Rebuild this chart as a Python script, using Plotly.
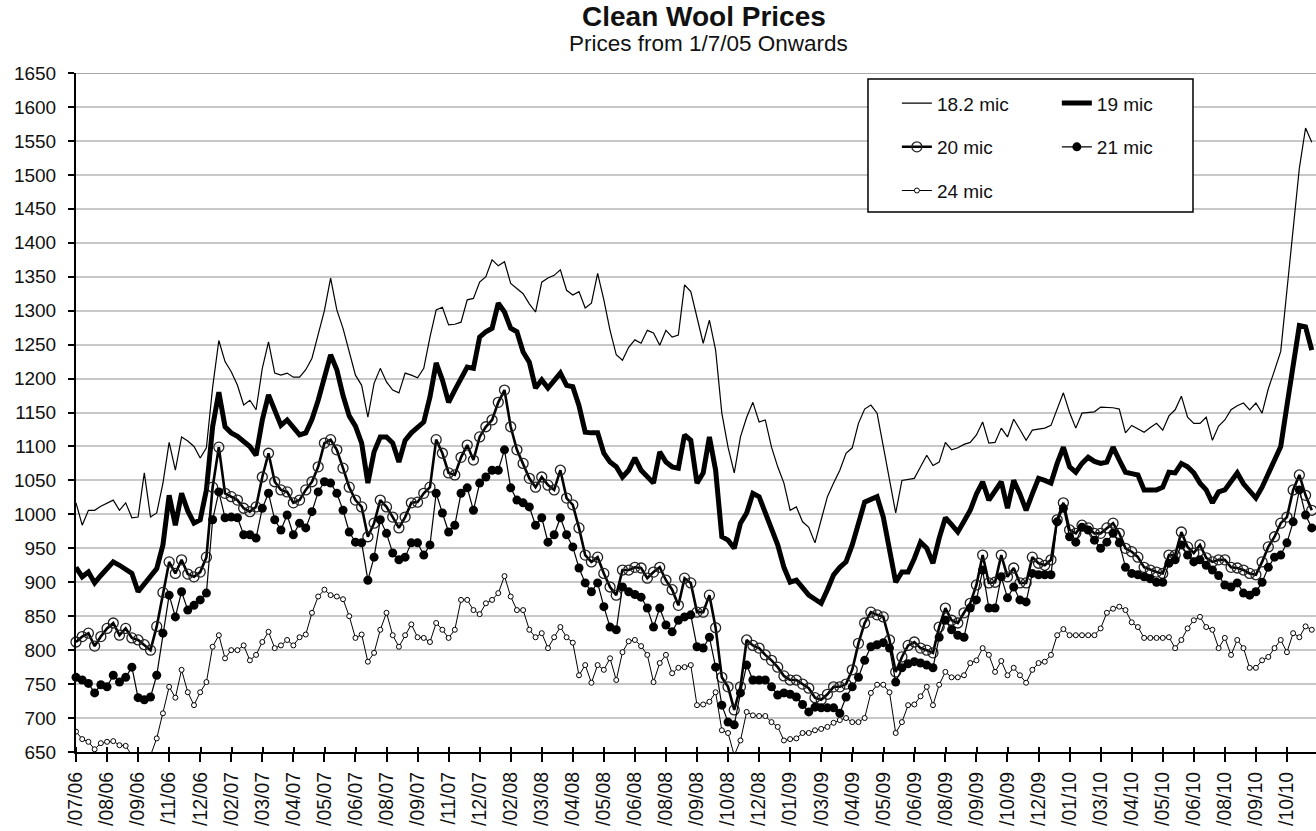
import plotly.graph_objects as go

# ---------------- data ----------------
tick_labels = ["/07/06", "/08/06", "/09/06", "/11/06", "/12/06",
               "/02/07", "/03/07", "/04/07", "/05/07", "/06/07", "/08/07", "/09/07", "/11/07", "/12/07",
               "/02/08", "/03/08", "/04/08", "/05/08", "/06/08", "/08/08", "/09/08", "/10/08", "/12/08",
               "/01/09", "/03/09", "/04/09", "/05/09", "/06/09", "/08/09", "/09/09", "/10/09", "/12/09",
               "/01/10", "/03/10", "/04/10", "/05/10", "/06/10", "/08/10", "/09/10", "/10/10"]

mic_18_2 = [
    1017, 984, 1006, 1006, 1012, 1016, 1021, 1006, 1017, 995,
    996, 1061, 996, 1002, 1046, 1106, 1065, 1114, 1108, 1100,
    1083, 1098, 1187, 1256, 1225, 1210, 1190, 1161, 1168, 1154,
    1215, 1254, 1208, 1205, 1208, 1202, 1202, 1213, 1230, 1265,
    1300, 1348, 1301, 1274, 1238, 1205, 1190, 1143, 1193, 1215,
    1195, 1183, 1179, 1208, 1205, 1201, 1215, 1261, 1301, 1305,
    1279, 1280, 1283, 1316, 1318, 1342, 1350, 1375, 1366, 1372,
    1340, 1333, 1325, 1310, 1298, 1342, 1348, 1352, 1360, 1330,
    1323, 1328, 1304, 1311, 1355, 1316, 1271, 1235, 1227, 1246,
    1257, 1252, 1271, 1267, 1249, 1271, 1261, 1264, 1338, 1328,
    1291, 1252, 1286, 1242, 1149, 1099, 1061, 1114, 1143, 1165,
    1136, 1139, 1099, 1070, 1046, 1006, 1011, 989, 981, 958,
    992, 1026, 1046, 1065, 1090, 1098, 1134, 1155, 1161, 1149,
    1100, 1050, 1002, 1050, 1052, 1053, 1070, 1087, 1072, 1077,
    1106, 1095, 1098, 1103, 1106, 1117, 1136, 1105, 1106, 1127,
    1114, 1140, 1125, 1109, 1124, 1126, 1127, 1131, 1155, 1179,
    1150, 1127, 1149, 1150, 1151, 1158, 1158, 1157, 1155, 1120,
    1131, 1126, 1121, 1128, 1134, 1124, 1145, 1154, 1174, 1143,
    1134, 1134, 1143, 1109, 1130, 1139, 1154, 1160, 1164, 1154,
    1164, 1149, 1185, 1212, 1240, 1330, 1420, 1510, 1569, 1548,
]

mic_19 = [
    922, 908, 915, 899, 910, 920, 930, 925, 918, 913,
    886, 898, 910, 920, 955, 1028, 984, 1031, 1005, 987,
    992, 1036, 1129, 1180, 1129, 1120, 1115, 1108, 1100, 1087,
    1139, 1176, 1152, 1131, 1139, 1129, 1117, 1120, 1140, 1168,
    1200, 1235, 1213, 1175, 1145, 1130, 1105, 1046, 1092, 1114,
    1114, 1105, 1077, 1109, 1120, 1128, 1136, 1173, 1223, 1198,
    1165, 1183, 1202, 1217, 1215, 1261, 1269, 1274, 1311, 1298,
    1274, 1269, 1239, 1224, 1186, 1198, 1186, 1198, 1208, 1190,
    1188, 1160, 1121, 1120, 1120, 1090, 1077, 1070, 1055, 1065,
    1083, 1065, 1055, 1046, 1092, 1077, 1070, 1068, 1117, 1109,
    1046, 1061, 1114, 1065, 967, 962, 950, 987, 1002, 1031,
    1026, 1002, 980, 955, 922, 900, 903, 893, 881, 875,
    869, 889, 911, 922, 930, 955, 990, 1018, 1022, 1026,
    996, 947, 900, 915, 915, 935, 959, 950, 928, 965,
    995, 985, 974, 990, 1006, 1030, 1048, 1021, 1035, 1048,
    1009, 1050, 1030, 1006, 1030, 1053, 1050, 1046, 1075, 1099,
    1070, 1062, 1075, 1084, 1078, 1075, 1077, 1099, 1080, 1062,
    1060, 1058, 1036, 1036, 1036, 1040, 1062, 1061, 1075, 1070,
    1061, 1046, 1036, 1017, 1033, 1036, 1050, 1061, 1045, 1035,
    1024, 1040, 1061, 1080, 1100, 1160, 1223, 1278, 1276, 1242,
]

mic_20 = [
    812, 820, 825, 806, 820, 832, 840, 822, 832, 818,
    815, 808, 800, 835, 885, 930, 913, 933, 912, 908,
    915, 937, 1040, 1099, 1031, 1026, 1021, 1009, 1004, 1011,
    1055, 1090, 1048, 1036, 1033, 1017, 1021, 1036, 1048, 1070,
    1105, 1110, 1095, 1068, 1040, 1021, 1011, 967, 987, 1021,
    1011, 996, 980, 996, 1017, 1018, 1031, 1040, 1110, 1090,
    1061, 1058, 1084, 1102, 1080, 1114, 1129, 1139, 1165, 1183,
    1129, 1095, 1075, 1053, 1040, 1055, 1043, 1036, 1065, 1024,
    1014, 980, 940, 930, 937, 913, 893, 881, 918, 918,
    922, 921, 906, 915, 922, 903, 889, 866, 906, 899,
    856, 856, 881, 833, 760, 746, 712, 746, 815, 807,
    803, 793, 785, 775, 762, 756, 756, 750, 744, 730,
    727, 735, 746, 746, 750, 771, 810, 840, 856, 852,
    849, 815, 768, 790, 807, 812, 803, 800, 796, 834,
    862, 844, 840, 855, 869, 896, 940, 899, 900, 940,
    908, 921, 899, 899, 937, 928, 925, 933, 992, 1017,
    977, 972, 984, 980, 972, 972, 980, 987, 972, 950,
    945, 937, 922, 918, 915, 913, 940, 940, 974, 952,
    943, 955, 936, 930, 933, 933, 922, 921, 918, 913,
    911, 930, 952, 967, 987, 996, 1036, 1058, 1028, 1006,
]

mic_21 = [
    760, 756, 751, 737, 749, 746, 763, 753, 760, 775,
    730, 727, 731, 763, 825, 881, 849, 886, 859, 866,
    874, 884, 992, 1033, 995, 996, 995, 970, 970, 965,
    1009, 1031, 992, 977, 999, 970, 987, 980, 1004, 1033,
    1048, 1046, 1031, 1006, 974, 959, 958, 903, 937, 992,
    972, 943, 933, 937, 958, 958, 940, 955, 1031, 1002,
    974, 984, 1031, 1039, 1006, 1046, 1055, 1065, 1065, 1095,
    1039, 1021, 1017, 1011, 984, 995, 959, 970, 995, 970,
    952, 921, 899, 886, 899, 864, 834, 830, 893, 886,
    882, 878, 862, 834, 862, 837, 827, 844, 849, 852,
    805, 803, 819, 775, 719, 694, 690, 737, 778, 756,
    756, 756, 746, 734, 737, 735, 731, 720, 709, 716,
    715, 715, 715, 707, 731, 746, 760, 785, 805, 808,
    811, 803, 753, 774, 780, 783, 781, 778, 774, 819,
    844, 830, 822, 819, 862, 874, 918, 862, 862, 908,
    877, 893, 874, 871, 913, 911, 911, 911, 989, 1009,
    967, 959, 981, 977, 962, 950, 959, 972, 958, 922,
    913, 911, 908, 905, 900, 900, 928, 933, 955, 940,
    930, 933, 925, 918, 910, 896, 893, 899, 884, 881,
    886, 900, 922, 937, 940, 958, 989, 1036, 999, 980,
]

mic_24 = [
    680, 669, 665, 654, 663, 665, 666, 660, 659, 645,
    638, 640, 645, 670, 707, 746, 730, 771, 738, 719,
    738, 753, 805, 822, 788, 800, 800, 807, 785, 793,
    812, 827, 803, 807, 815, 807, 819, 823, 855, 879,
    889, 881, 879, 875, 850, 818, 823, 783, 796, 830,
    855, 822, 805, 822, 838, 819, 818, 812, 840, 830,
    818, 830, 874, 874, 859, 853, 869, 874, 884, 909,
    879, 859, 859, 830, 819, 825, 803, 819, 834, 819,
    811, 763, 778, 752, 778, 771, 788, 756, 797, 813,
    815, 806, 793, 753, 781, 793, 766, 774, 775, 778,
    719, 720, 724, 738, 682, 678, 645, 667, 709, 704,
    703, 703, 694, 687, 667, 669, 670, 678, 678, 682,
    684, 687, 693, 697, 700, 694, 694, 700, 737, 749,
    749, 738, 678, 694, 719, 720, 732, 746, 719, 749,
    768, 760, 760, 763, 781, 785, 803, 793, 768, 784,
    763, 774, 763, 752, 771, 781, 783, 793, 822, 831,
    822, 822, 822, 822, 822, 832, 855, 861, 864, 859,
    841, 834, 818, 818, 818, 818, 819, 803, 815, 832,
    844, 849, 834, 830, 803, 818, 793, 815, 803, 774,
    774, 785, 790, 803, 815, 797, 825, 819, 835, 830,
]

# ---------------- figure ----------------
FONT = "Liberation Sans, Arial, Helvetica, sans-serif"
x = list(range(len(mic_18_2)))
tickvals = [i * 5 for i in range(len(tick_labels))]

fig = go.Figure()
fig.add_trace(go.Scatter(x=x, y=mic_18_2, name="18.2 mic", mode="lines",
                         line=dict(color="black", width=1.2),
                         legend="legend", legendgroup="g1"))
fig.add_trace(go.Scatter(x=x, y=mic_19, name="19 mic", mode="lines",
                         line=dict(color="black", width=5),
                         legend="legend2", legendgroup="g2"))
fig.add_trace(go.Scatter(x=x, y=mic_20, name="20 mic", mode="lines+markers",
                         line=dict(color="black", width=2.6),
                         marker=dict(symbol="circle-open", size=10, color="#222222",
                                     line=dict(width=1.3)),
                         cliponaxis=False, legend="legend", legendgroup="g3"))
fig.add_trace(go.Scatter(x=x, y=mic_21, name="21 mic", mode="lines+markers",
                         line=dict(color="black", width=1.2),
                         marker=dict(symbol="circle", size=9, color="black"),
                         cliponaxis=False, legend="legend2", legendgroup="g4"))
fig.add_trace(go.Scatter(x=x, y=mic_24, name="24 mic", mode="lines+markers",
                         line=dict(color="black", width=1),
                         marker=dict(symbol="circle", size=5, color="white",
                                     line=dict(color="black", width=1)),
                         legend="legend", legendgroup="g5"))

legend_common = dict(xanchor="left", yanchor="top", bgcolor="rgba(0,0,0,0)",
                     borderwidth=0, font=dict(family=FONT, size=19, color="#111111"),
                     tracegroupgap=16, itemclick=False, itemdoubleclick=False)

fig.update_layout(
    width=1316, height=831, template="none",
    paper_bgcolor="white", plot_bgcolor="white",
    margin=dict(l=76, r=0, t=73, b=79, pad=0),
    font=dict(family=FONT, size=19, color="#111111"),
    showlegend=True,
    xaxis=dict(range=[0, 199.68], tickmode="array", tickvals=tickvals, ticktext=tick_labels,
               tickangle=-90, ticks="outside", ticklen=8, tickwidth=2, tickcolor="black",
               showline=True, linecolor="black", linewidth=2, showgrid=False, zeroline=False,
               tickfont=dict(family=FONT, size=19.5, color="#111111"), ticklabelstandoff=2,
               minor=dict(tickmode="array", tickvals=[v + 0.05 for v in tickvals],
                          ticks="inside", ticklen=5, tickwidth=2, tickcolor="black",
                          showgrid=False)),
    yaxis=dict(range=[650, 1650], tick0=650, dtick=50, ticks="outside", ticklen=6,
               tickwidth=2, tickcolor="black", showline=True, linecolor="black",
               linewidth=2, showgrid=True, gridcolor="#c8c8c8", gridwidth=2,
               zeroline=False, tickfont=dict(family=FONT, size=19, color="#111111"),
               ticklabelstandoff=8),
    legend=dict(x=0.662, y=0.9834, **legend_common),
    legend2=dict(x=0.791, y=0.9834, **legend_common),
    shapes=[
        dict(type="line", xref="paper", yref="y", x0=0, x1=1, y0=1650, y1=1650,
             line=dict(color="#8c8c8c", width=1.5), layer="above"),
        dict(type="rect", xref="paper", yref="paper", x0=0.6387, x1=0.9008,
             y0=0.7953, y1=0.9912, line=dict(color="black", width=1.5),
             fillcolor="white", layer="above"),
    ],
    annotations=[
        dict(text="<b>Clean Wool Prices</b>", xref="paper", yref="paper",
             x=0.5065, y=1.0825, xanchor="center", yanchor="middle", showarrow=False,
             font=dict(family=FONT, size=28, color="#111111")),
        dict(text="Prices from 1/7/05 Onwards", xref="paper", yref="paper",
             x=0.5097, y=1.0437, xanchor="center", yanchor="middle", showarrow=False,
             font=dict(family=FONT, size=22.5, color="#111111")),
    ],
)

fig.write_html("out.html", config={"displayModeBar": False},
               post_script="document.body.style.margin='0px';document.body.style.overflow='hidden';")
